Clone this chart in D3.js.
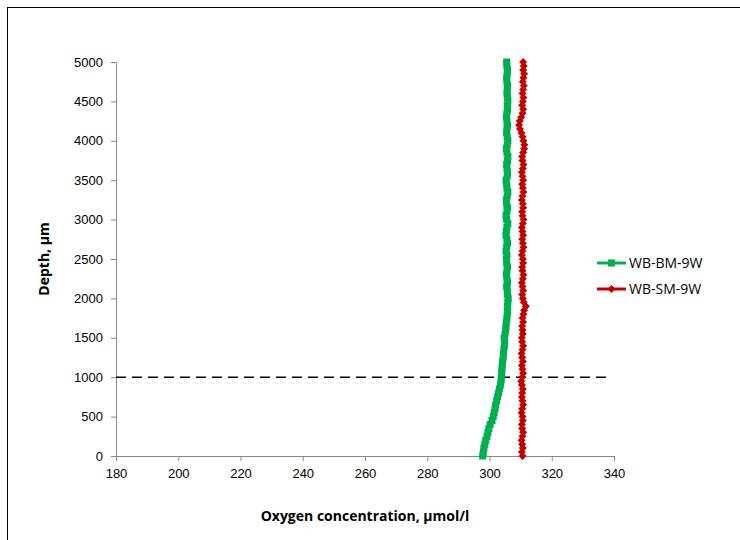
<!DOCTYPE html>
<html><head><meta charset="utf-8">
<script src="https://cdn.jsdelivr.net/npm/d3@7"></script>
<style>body{margin:0;background:#fff;} svg{display:block;font-family:"Open Sans","Noto Sans",sans-serif;}</style>
</head><body>
<svg id="c" width="740" height="540"></svg>
<script>
const depths = d3.range(0, 5001, 50);
const bmValues = [297.8,298.0,298.2,298.5,298.8,299.2,299.5,299.8,300.2,300.8,
301.2,301.5,301.8,302.0,302.3,302.6,302.9,303.2,303.5,303.7,
303.8,303.9,304.0,304.1,304.2,304.4,304.5,304.6,304.8,304.9,
304.7,305.0,305.2,305.3,305.4,305.6,305.7,305.8,305.8,305.9,
306.0,305.8,305.7,305.5,305.8,305.6,305.4,305.6,305.8,305.5,
305.4,305.6,305.3,305.5,305.8,305.6,305.3,305.4,305.6,305.9,
305.5,305.3,305.6,305.8,305.5,305.4,305.7,305.9,305.6,305.5,
305.3,305.7,305.8,305.6,305.5,305.8,305.9,305.6,305.4,305.7,
305.9,305.7,305.5,305.6,305.8,305.6,305.4,305.6,305.8,305.7,
305.9,305.8,305.6,305.7,305.8,305.6,305.5,305.7,305.8,305.6,305.5];
const smValues = [310.6,310.4,310.7,310.5,310.3,310.6,310.8,310.5,310.4,310.7,
310.6,310.3,310.5,310.8,310.6,310.4,310.5,310.7,310.4,310.2,
310.5,310.8,310.6,310.4,310.7,310.5,310.3,310.6,310.8,310.5,
310.4,310.7,310.6,310.5,310.8,310.6,310.9,311.1,311.7,311.0,
310.7,310.5,310.8,310.6,310.4,310.7,310.9,310.6,310.5,310.8,
310.7,310.4,310.6,310.9,310.7,310.5,310.8,310.6,310.4,310.7,
310.9,310.6,310.5,310.8,310.7,310.4,310.6,310.9,310.7,310.5,
310.8,310.6,310.4,310.7,310.9,310.6,310.5,310.8,311.1,311.2,
310.9,310.6,310.3,309.8,309.5,309.7,310.2,310.6,310.8,310.5,
310.7,310.9,310.6,310.8,311.0,310.7,310.9,311.1,310.8,311.0,310.8];
const xTicks = [180,200,220,240,260,280,300,320,340];
const yTicks = [0,500,1000,1500,2000,2500,3000,3500,4000,4500,5000];
const seriesNames = ["WB-BM-9W","WB-SM-9W"];
const seriesColors = ["#00B050","#C00000"];
const refDepth = 1000;

const svg = d3.select("#c");
svg.append("rect").attr("x",7.5).attr("y",7.5).attr("width",900).attr("height",900)
  .attr("fill","none").attr("stroke","#000").attr("stroke-width",1);

const x = d3.scaleLinear().domain([180,340]).range([116,614]);
const y = d3.scaleLinear().domain([0,5000]).range([456,62]);

const xa = svg.append("g").attr("transform","translate(0,456)")
  .call(d3.axisBottom(x).tickValues(xTicks).tickFormat(d3.format("d")).tickSize(5).tickSizeOuter(0).tickPadding(8));
const ya = svg.append("g").attr("transform","translate(116,0)")
  .call(d3.axisLeft(y).tickValues(yTicks).tickFormat(d3.format("d")).tickSize(5).tickSizeOuter(0).tickPadding(8));
[xa,ya].forEach(a=>{
  a.selectAll("path,line").attr("stroke","#868686");
  a.selectAll("text").attr("font-size",13).attr("fill","#000");
});

svg.append("line").attr("x1",x(180)).attr("x2",x(338.5)).attr("y1",y(refDepth)).attr("y2",y(refDepth))
  .attr("stroke","#000").attr("stroke-width",1.5).attr("stroke-dasharray","10,6");

const data = [bmValues, smValues];
const line = d3.line().x(d=>x(d[0])).y(d=>y(d[1]));
const diamond = s => `M0,${-s}L${s},0L0,${s}L${-s},0Z`;

data.forEach((vals,i)=>{
  const pts = depths.map((dp,j)=>[vals[j],dp]);
  svg.append("path").datum(pts).attr("d",line).attr("fill","none")
    .attr("stroke",seriesColors[i]).attr("stroke-width",3);
  const g = svg.append("g");
  pts.forEach(p=>{
    if(i===0){
      g.append("rect").attr("x",x(p[0])-3.5).attr("y",y(p[1])-3.5).attr("width",7).attr("height",7)
        .attr("fill",seriesColors[i]);
    } else {
      g.append("path").attr("d",diamond(4)).attr("transform",`translate(${x(p[0])},${y(p[1])})`)
        .attr("fill",seriesColors[i]);
    }
  });
});

// legend
seriesNames.forEach((n,i)=>{
  const ly = 263 + i*26;
  svg.append("line").attr("x1",597).attr("x2",626).attr("y1",ly).attr("y2",ly)
    .attr("stroke",seriesColors[i]).attr("stroke-width",3);
  if(i===0) svg.append("rect").attr("x",608).attr("y",ly-3.5).attr("width",7).attr("height",7).attr("fill",seriesColors[i]);
  else svg.append("path").attr("d",diamond(4)).attr("transform",`translate(611.5,${ly})`).attr("fill",seriesColors[i]);
  svg.append("text").attr("x",629).attr("y",ly+5).attr("font-size",14).text(n);
});

svg.append("text").attr("x",365).attr("y",521).attr("text-anchor","middle")
  .attr("font-weight","bold").attr("font-size",14).text("Oxygen concentration, µmol/l");
svg.append("text").attr("transform","translate(49,259) rotate(-90)").attr("text-anchor","middle")
  .attr("font-weight","bold").attr("font-size",14).text("Depth, µm");
</script>
</body></html>
